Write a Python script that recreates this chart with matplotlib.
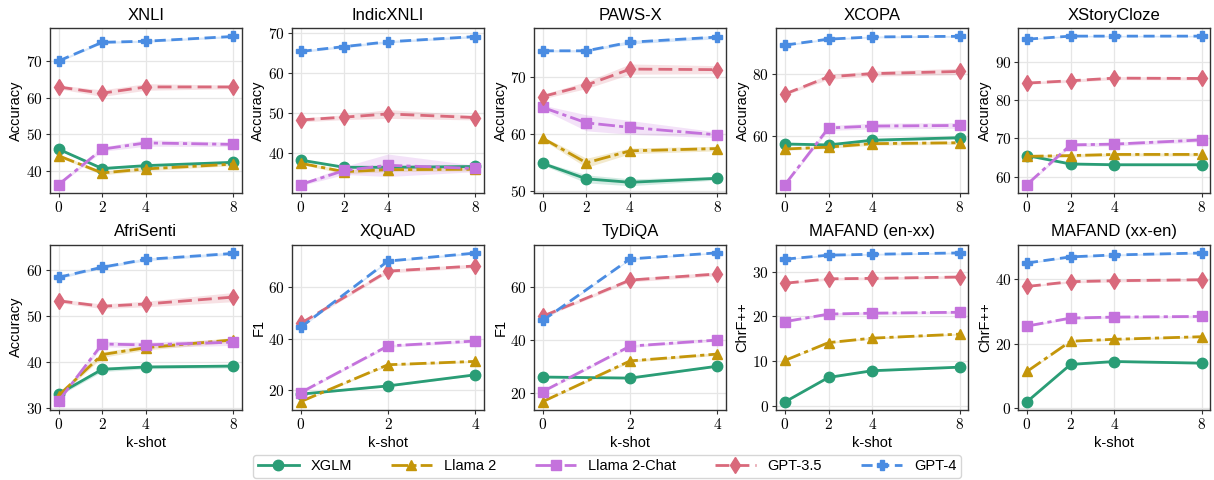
import matplotlib
matplotlib.use("Agg")
import matplotlib.pyplot as plt
from matplotlib.ticker import MultipleLocator

# panels
tasks = ["XNLI", "IndicXNLI", "PAWS-X", "XCOPA", "XStoryCloze",
         "AfriSenti", "XQuAD", "TyDiQA", "MAFAND (en-xx)", "MAFAND (xx-en)"]
metrics = ["Accuracy", "Accuracy", "Accuracy", "Accuracy", "Accuracy",
           "Accuracy", "F1", "F1", "ChrF++", "ChrF++"]
shots_long = [0, 2, 4, 8]
shots_short = [0, 2, 4]
tick_step = [10, 10, 10, 20, 10, 10, 20, 20, 10, 20]

models = ["XGLM", "Llama 2", "Llama 2-Chat", "GPT-3.5", "GPT-4"]

# scores per task, order: XGLM, Llama 2, Llama 2-Chat, GPT-3.5, GPT-4
xnli = [[45.9, 40.6, 41.4, 42.3], [44.1, 39.4, 40.5, 41.8], [36.2, 45.9, 47.6, 47.2],
        [62.9, 61.2, 62.9, 62.9], [70.0, 75.1, 75.4, 76.7]]
indicxnli = [[38.3, 36.5, 36.5, 36.7], [37.5, 35.4, 35.9, 36.0], [32.2, 35.7, 37.0, 36.2],
             [48.3, 49.0, 49.8, 48.9], [65.4, 66.6, 67.8, 69.1]]
pawsx = [[54.8, 52.1, 51.5, 52.2], [59.2, 54.9, 57.0, 57.4], [64.6, 61.9, 61.1, 59.8],
         [66.5, 68.5, 71.3, 71.2], [74.5, 74.5, 76.0, 76.9]]
xcopa = [[57.6, 57.3, 58.8, 59.6], [56.0, 56.6, 57.7, 58.0], [44.6, 62.7, 63.3, 63.5],
         [73.5, 79.0, 80.0, 80.7], [89.1, 91.0, 91.7, 91.9]]
xstorycloze = [[65.5, 63.3, 63.1, 63.1], [65.3, 65.5, 65.8, 65.8], [57.9, 68.3, 68.5, 69.6],
               [84.5, 85.1, 85.8, 85.7], [96.0, 96.8, 96.8, 96.8]]
afrisenti = [[33.0, 38.4, 38.9, 39.1], [32.7, 41.6, 43.1, 44.8], [31.5, 43.9, 43.7, 44.3],
             [53.3, 52.1, 52.6, 54.1], [58.4, 60.6, 62.3, 63.6]]
xquad = [[18.5, 21.7, 26.0], [15.6, 29.9, 31.2], [19.1, 37.2, 39.1],
         [45.9, 66.2, 68.2], [44.4, 70.1, 73.2]]
tydiqa = [[25.9, 25.5, 30.0], [16.6, 32.0, 34.6], [20.4, 37.6, 39.9],
          [48.9, 62.6, 64.9], [47.3, 70.6, 72.9]]
mafand_enxx = [[0.8, 6.3, 7.8, 8.6], [10.1, 14.1, 15.1, 16.0], [18.8, 20.5, 20.7, 20.9],
               [27.4, 28.4, 28.5, 28.8], [32.8, 33.7, 33.9, 34.2]]
mafand_xxen = [[2.0, 13.6, 14.5, 14.0], [11.4, 20.8, 21.4, 22.2], [25.5, 28.0, 28.3, 28.5],
               [37.8, 39.3, 39.6, 39.9], [45.1, 47.0, 47.6, 48.2]]

# half width of the shaded bands (estimated)
xnli_err = [[0.3, 0.4, 0.4, 0.4], [0.4, 0.5, 0.5, 0.4], [0.3, 0.6, 0.9, 0.6],
            [0.5, 0.9, 0.9, 0.5], [0.3, 0.3, 0.3, 0.3]]
indicxnli_err = [[0.3, 0.3, 0.3, 0.3], [0.3, 0.5, 0.5, 0.4], [0.3, 1.0, 2.8, 0.8],
                 [0.5, 0.6, 1.1, 0.6], [0.3, 0.3, 0.3, 0.3]]
pawsx_err = [[0.3, 0.7, 0.6, 0.3], [0.3, 0.8, 0.5, 0.4], [0.4, 1.4, 1.2, 0.5],
             [0.4, 0.6, 0.9, 0.7], [0.2, 0.2, 0.3, 0.3]]
xcopa_err = [[0.4, 0.4, 0.5, 0.5], [0.4, 0.4, 0.5, 0.5], [0.3, 0.8, 0.9, 0.9],
             [0.4, 0.8, 0.8, 1.0], [0.3, 0.3, 0.3, 0.3]]
xstorycloze_err = [[0.3, 0.3, 0.3, 0.3], [0.3, 0.4, 0.4, 0.4], [0.3, 0.5, 0.5, 0.5],
                   [0.3, 0.4, 0.4, 0.4], [0.2, 0.2, 0.2, 0.2]]
afrisenti_err = [[0.4, 0.5, 0.4, 0.4], [0.4, 0.6, 0.5, 0.5], [0.3, 0.6, 0.6, 0.7],
                 [0.4, 0.5, 0.6, 1.0], [0.3, 0.3, 0.3, 0.3]]
xquad_err = [[0.3, 0.3, 0.3], [0.3, 0.4, 0.4], [0.4, 0.5, 0.6],
             [0.5, 0.7, 0.7], [0.3, 0.4, 0.4]]
tydiqa_err = [[0.3, 0.3, 0.3], [0.3, 0.5, 0.5], [0.4, 0.5, 0.5],
              [0.5, 0.7, 0.7], [0.3, 0.3, 0.3]]
mafand_enxx_err = [[0.1, 0.2, 0.2, 0.2], [0.1, 0.2, 0.2, 0.2], [0.2, 0.3, 0.3, 0.3],
                   [0.2, 0.3, 0.3, 0.3], [0.1, 0.2, 0.2, 0.2]]
mafand_xxen_err = [[0.2, 0.3, 0.3, 0.3], [0.2, 0.3, 0.3, 0.3], [0.2, 0.4, 0.4, 0.4],
                   [0.2, 0.4, 0.4, 0.4], [0.2, 0.3, 0.3, 0.3]]

all_scores = [xnli, indicxnli, pawsx, xcopa, xstorycloze,
              afrisenti, xquad, tydiqa, mafand_enxx, mafand_xxen]
all_err = [xnli_err, indicxnli_err, pawsx_err, xcopa_err, xstorycloze_err,
           afrisenti_err, xquad_err, tydiqa_err, mafand_enxx_err, mafand_xxen_err]

colors = ["#2a9d76", "#c4960a", "#c472dc", "#d9697b", "#4a8ce2"]
markers = ["o", "^", "s", "d", "P"]
styles = ["-", (0, (6, 1.5, 1.5, 1.5)), (0, (6, 1.5, 1.5, 1.5)), (0, (5, 2.2)), (0, (4, 2))]

sans = "Liberation Sans"
serif = "cmr10"
plt.rcParams["axes.formatter.use_mathtext"] = True

fig, axes = plt.subplots(2, 5, figsize=(12.14, 4.8), dpi=100)
fig.subplots_adjust(left=0.041, right=0.997, top=0.942, bottom=0.146,
                    wspace=0.26, hspace=0.31)

for i, ax in enumerate(axes.flat):
    scores = all_scores[i]
    errs = all_err[i]
    x = shots_long if len(scores[0]) == 4 else shots_short
    for m in range(len(models)):
        lo = [v - e for v, e in zip(scores[m], errs[m])]
        hi = [v + e for v, e in zip(scores[m], errs[m])]
        ax.fill_between(x, lo, hi, color=colors[m], alpha=0.2, lw=0)
        ax.plot(x, scores[m], color=colors[m], marker=markers[m], ls=styles[m],
                lw=2.0, ms=7.5 if markers[m] != "d" else 8, label=models[m])
    ax.set_title(tasks[i], fontsize=12, family=sans)
    ax.set_ylabel(metrics[i], fontsize=10.5, family=sans, labelpad=2)
    ax.set_xticks(x)
    if len(x) == 4:
        ax.set_xlim(-0.4, 8.4)
    else:
        ax.set_xlim(-0.2, 4.2)
    ax.yaxis.set_major_locator(MultipleLocator(tick_step[i]))
    ax.grid(True, color="#e6e6e6", lw=0.9)
    ax.set_axisbelow(True)
    ax.tick_params(labelsize=11, length=3, width=0.8, color="#333333", pad=2)
    for lbl in ax.get_xticklabels() + ax.get_yticklabels():
        lbl.set_family(serif)
    for s in ax.spines.values():
        s.set_color("#333333")
        s.set_linewidth(1.0)
    if i >= 5:
        ax.set_xlabel("k-shot", fontsize=10.5, family=sans, labelpad=3)

handles, labels = axes[0, 0].get_legend_handles_labels()
fig.legend(handles, labels, loc="lower center", bbox_to_anchor=(0.5, -0.01), ncol=5,
           prop={"family": sans, "size": 10.5}, handlelength=2.8, columnspacing=2.7,
           frameon=True, fancybox=True, edgecolor="#cccccc", borderpad=0.3)

fig.savefig("out.png", dpi=100)
